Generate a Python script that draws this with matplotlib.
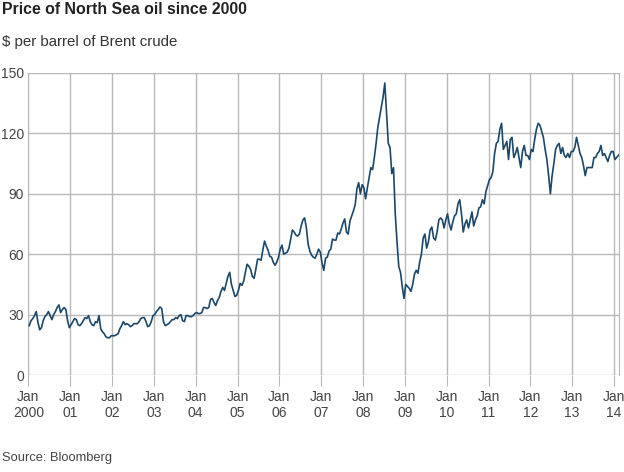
import matplotlib
matplotlib.use("Agg")
import matplotlib.pyplot as plt
import numpy as np

plt.rcParams['font.family'] = ['Liberation Sans', 'DejaVu Sans']

# Brent crude, $ per barrel, two readings per month (first half, second half)
brent_2000 = [24.5, 27, 28, 29.5, 31.5, 26, 22.5, 23.5, 27, 29, 30, 31.5,
              29.5, 27.5, 30, 31.5, 33.5, 34.8, 31, 32.5, 33.5, 32.5, 27, 23.5]
brent_2001 = [25, 26.5, 28, 27.5, 25, 24.5, 25.5, 27, 28.5, 28, 29.5, 26.5,
              25, 24.5, 26.5, 26, 29.5, 23, 21.5, 20.5, 19, 18.5, 18.5, 19.5]
brent_2002 = [19.5, 19.5, 20, 20.5, 23, 24.5, 26.5, 25, 25.5, 25, 24, 24.5,
              25.5, 25.5, 25.5, 26.5, 28, 28.5, 28.5, 26.5, 24, 24.5, 26.5, 29.5]
brent_2003 = [30, 31.5, 32.5, 33.8, 33, 26.5, 24.5, 25, 25.5, 26.5, 27.5, 27.5,
              28.5, 28, 29.5, 30, 27, 26.5, 29.5, 29.5, 29, 29, 29.5, 30.5]
brent_2004 = [31, 30.5, 30.5, 31, 33.5, 33.5, 33, 33.5, 37.5, 38, 36, 34.5,
              37, 38.5, 41.5, 43.5, 42, 45.5, 49, 51, 45, 42, 39, 39.5]
brent_2005 = [42, 45.5, 44.5, 46.5, 51, 55, 54, 52.5, 49, 48, 52.5, 57.5,
              57.5, 57, 62, 66.5, 64, 62, 59, 58.5, 56, 54.5, 56, 58.5]
brent_2006 = [62.5, 64.5, 60, 60.5, 61, 63, 67.5, 72, 71, 69.5, 69, 70,
              74, 77, 78, 73, 65, 61.5, 59.5, 58.5, 58, 60, 62.5, 61]
brent_2007 = [55.5, 52, 58, 58.5, 61.5, 62.5, 67.5, 67, 67, 70.5, 70, 72.5,
              75.5, 77.5, 71, 70, 76.5, 79, 81.5, 84.5, 92.5, 95.5, 90, 94.5]
brent_2008 = [93, 87.5, 93, 98, 103, 102, 108, 115, 123, 128, 133, 138,
              145, 130, 115, 113, 100, 103, 80, 66, 54, 51, 44, 38]
brent_2009 = [45, 44, 43, 41.5, 45, 50, 52, 50.5, 56, 60, 68, 70,
              63, 66, 72, 73.5, 68, 67, 71, 77, 78, 77, 73, 77]
brent_2010 = [80, 75, 72, 76, 79, 80, 85, 87, 80, 71, 75, 77,
              73, 77, 81, 74, 77, 79, 83, 83.5, 87, 85, 91, 94]
brent_2011 = [97, 98, 101, 110, 115, 116, 122, 125, 112, 114, 116, 107,
              117, 118, 108, 110, 113, 108, 103, 111, 114, 109, 109, 107]
brent_2012 = [112, 111, 117, 122, 125, 124, 121, 118, 112, 107, 99, 90,
              99, 105, 112, 114, 115, 110, 113, 109, 108, 110, 108, 111]
brent_2013 = [111, 113, 118, 114, 110, 108, 104, 99, 103, 103, 103, 103,
              108, 108, 110, 111, 114, 109, 110, 108, 106, 109, 111, 111]
brent_2014 = [107, 108, 109, 110]

prices = np.array(brent_2000 + brent_2001 + brent_2002 + brent_2003 + brent_2004
                  + brent_2005 + brent_2006 + brent_2007 + brent_2008 + brent_2009
                  + brent_2010 + brent_2011 + brent_2012 + brent_2013 + brent_2014)
years = 2000 + (np.arange(len(prices)) + 0.5) / 24.0

tick_years = list(range(2000, 2015))
tick_labels = ["Jan\n2000"] + ["Jan\n%02d" % (y % 100) for y in tick_years[1:]]
y_ticks = [0, 30, 60, 90, 120, 150]

fig = plt.figure(figsize=(6.24, 4.72), dpi=100)
ax = fig.add_axes([0.0455, 0.2055, 0.9465, 0.64])

grid_col = "#b8b8b8"
ax.plot(years, prices, color="#1c4769", lw=1.2, zorder=3)

ax.set_xlim(2000, 2014.12)
ax.set_ylim(0, 150)
ax.set_xticks(tick_years)
ax.set_xticklabels(tick_labels, linespacing=1.15)
ax.set_yticks(y_ticks)
ax.grid(True, color=grid_col, lw=1)
ax.set_axisbelow(True)

for s in ["top", "bottom"]:
    ax.spines[s].set_visible(False)
ax.spines["left"].set_color(grid_col)
ax.spines["right"].set_color(grid_col)

ax.tick_params(axis="x", length=8, color=grid_col, labelsize=10,
               labelcolor="#444444", pad=3)
ax.tick_params(axis="y", length=0, labelsize=10, labelcolor="#444444", pad=3)

fig.text(0.003, 0.9693, "Price of North Sea oil since 2000", fontsize=11.4,
         fontweight="bold", color="#222222", va="baseline", ha="left")
fig.text(0.003, 0.9015, "$ per barrel of Brent crude", fontsize=10.8,
         color="#333333", va="baseline", ha="left")
fig.text(0.003, 0.0233, "Source: Bloomberg", fontsize=9.3,
         color="#444444", va="baseline", ha="left")

fig.savefig("out.png", dpi=100)
